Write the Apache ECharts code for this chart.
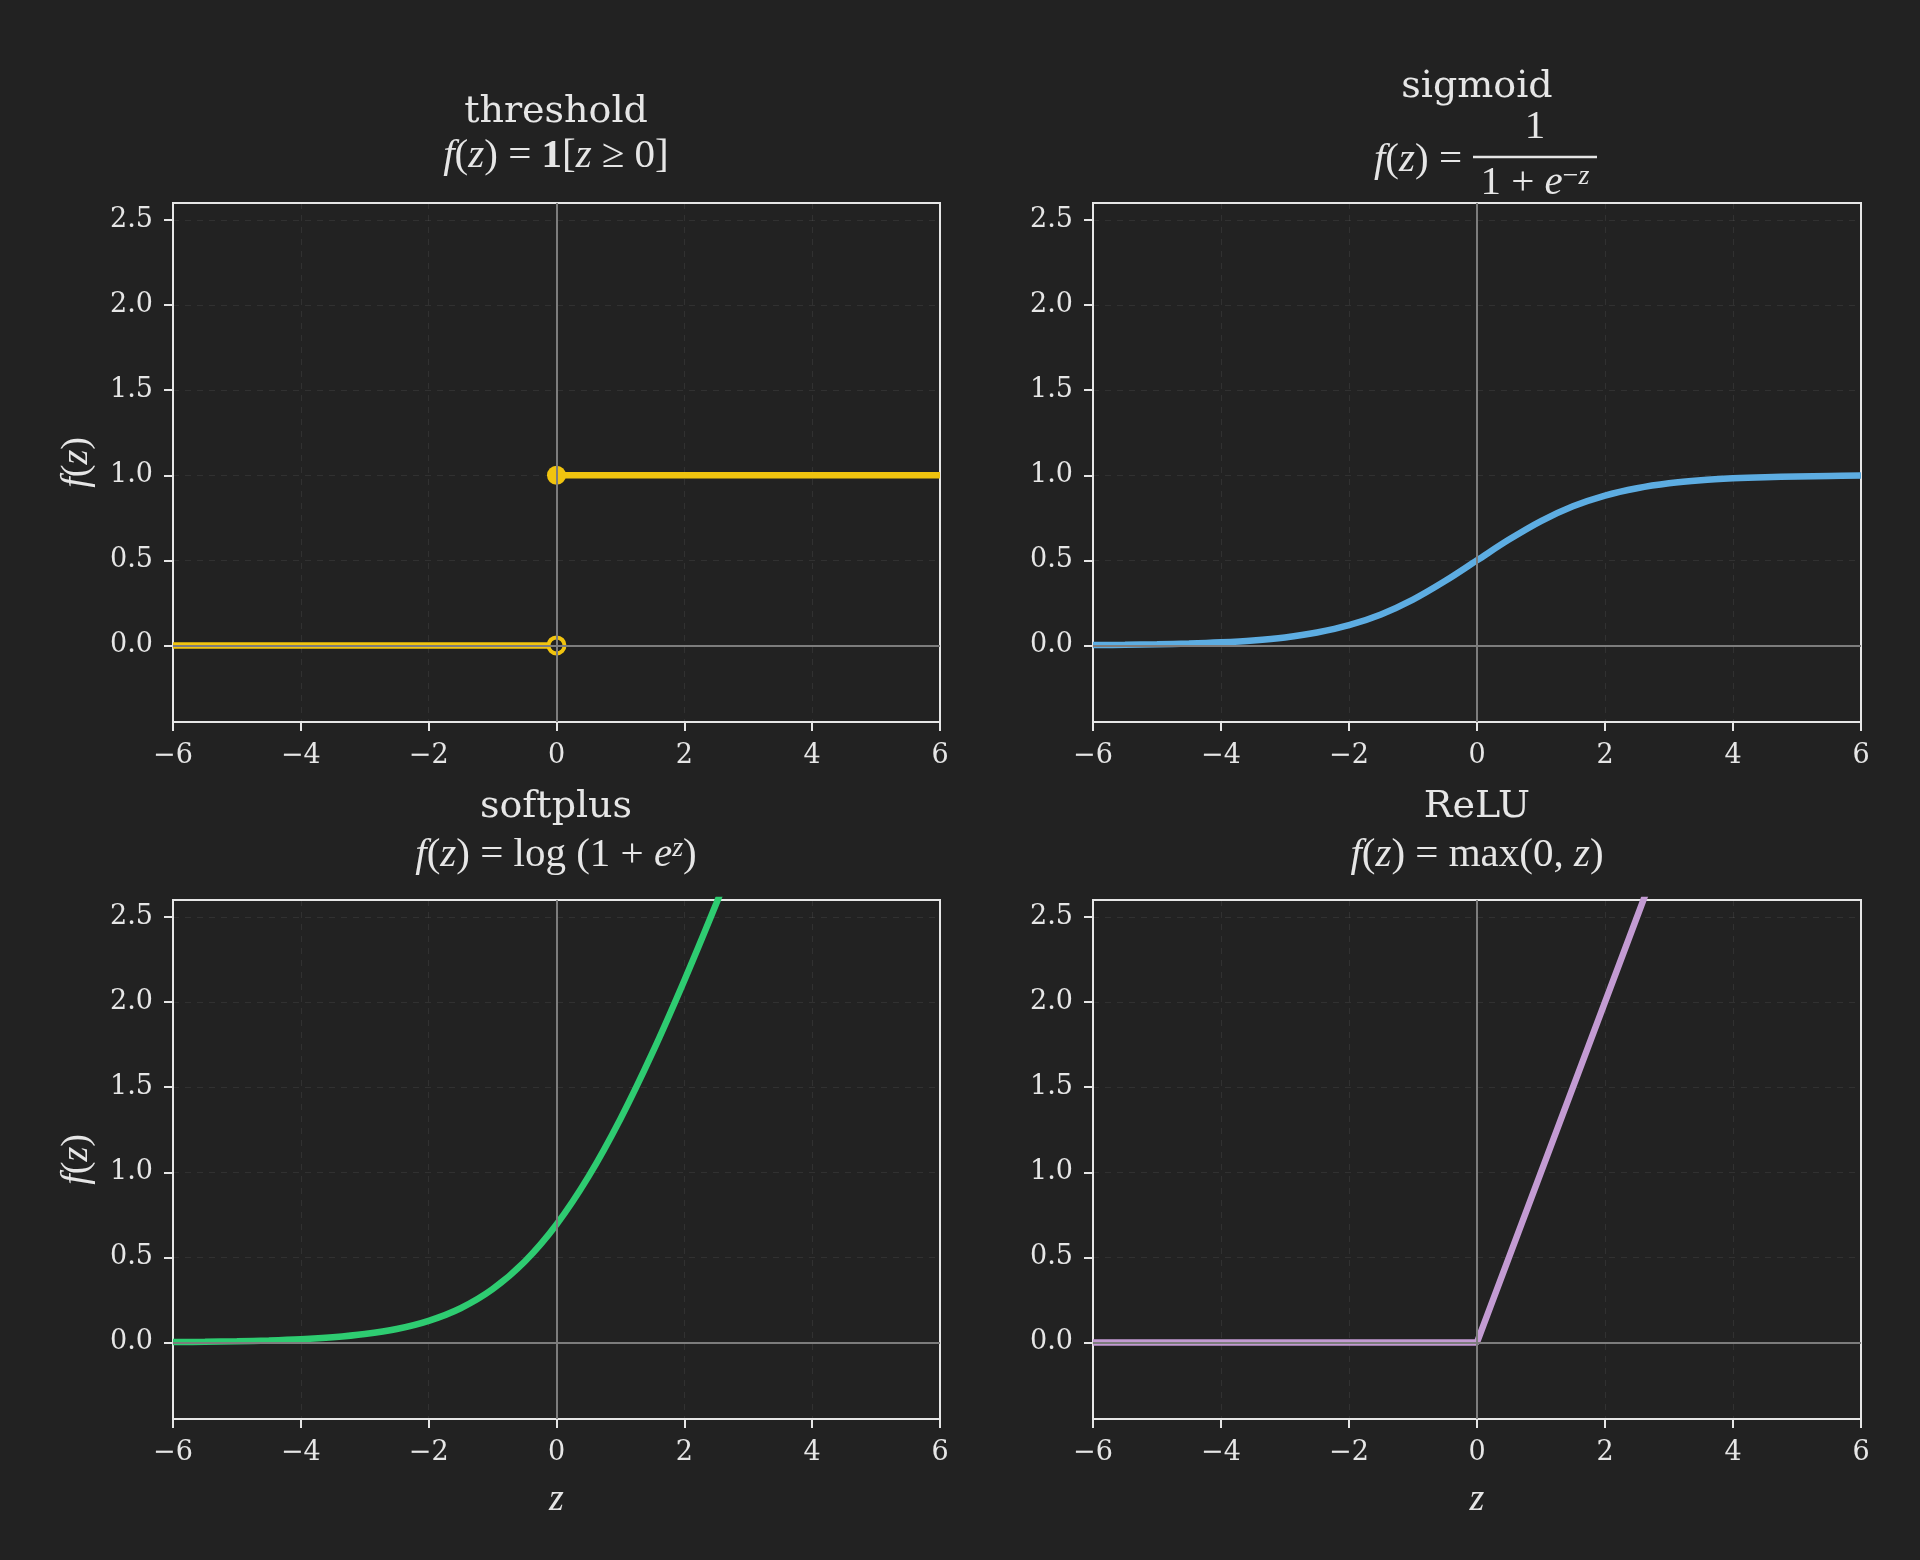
<!DOCTYPE html>
<html>
<head>
<meta charset="utf-8">
<script src="https://cdn.jsdelivr.net/npm/echarts@6/dist/echarts.min.js"></script>
<style>
  html, body { margin: 0; padding: 0; background: #222222; }
  #chart { width: 1920px; height: 1560px; }
</style>
</head>
<body>
<div id="chart"></div>
<script>
// tick labels
const zTicks = [-6, -4, -2, 0, 2, 4, 6];
const yTicks = [0, 0.5, 1, 1.5, 2, 2.5];

// sample points
const zSamples = [-6, -5.5, -5, -4.5, -4, -3.5, -3, -2.5, -2, -1.5, -1, -0.5, 0,
                  0.5, 1, 1.5, 2, 2.5, 3, 3.5, 4, 4.5, 5, 5.5, 6];
const sigmoidValues = [0.002, 0.004, 0.007, 0.011, 0.018, 0.029, 0.047, 0.076, 0.119, 0.182, 0.269, 0.378, 0.5,
                       0.622, 0.731, 0.818, 0.881, 0.924, 0.953, 0.971, 0.982, 0.989, 0.993, 0.996, 0.998];
const softplusValues = [0.002, 0.004, 0.007, 0.011, 0.018, 0.030, 0.049, 0.079, 0.127, 0.201, 0.313, 0.474, 0.693,
                        0.974, 1.313, 1.701, 2.127, 2.579, 3.049, 3.530, 4.018, 4.511, 5.007, 5.504, 6.002];

const reluZ = [-6, 0, 6];
const reluValues = [0, 0, 6];

const thresholdLowZ = [-6, 0];
const thresholdLowValues = [0, 0];
const thresholdHighZ = [0, 6];
const thresholdHighValues = [1, 1];

const titles = ['threshold', 'sigmoid', 'softplus', 'ReLU'];
const colors = ['#f1c40f', '#5dade2', '#2ecc71', '#c39bd3'];

const BG = '#222222';
const FG = '#e6e6e6';
const SERIF = 'DejaVu Serif';
const MATH = 'Liberation Serif';

function pairs(xs, ys) {
    return xs.map((x, i) => [x, ys[i]]);
}

const grids = [
    {left: 173, top: 203, width: 767, height: 519},
    {left: 1093, top: 203, width: 768, height: 519},
    {left: 173, top: 900, width: 767, height: 519},
    {left: 1093, top: 900, width: 768, height: 519}
].map(g => Object.assign(g, {show: true, borderColor: FG, borderWidth: 2, backgroundColor: 'transparent'}));

const tickFont = {color: FG, fontFamily: SERIF, fontSize: 27};
const gridLine = {show: true, lineStyle: {color: 'rgba(255,255,255,0.07)', type: [6, 6], width: 1}};

const xAxes = grids.map((g, i) => ({
    type: 'value', gridIndex: i, min: zTicks[0], max: zTicks[zTicks.length - 1], interval: 2,
    axisLine: {show: false, onZero: false},
    axisTick: {show: true, inside: false, length: 9, lineStyle: {color: FG, width: 2}},
    axisLabel: Object.assign({margin: 20, formatter: v => v < 0 ? '\u2212' + Math.abs(v) : String(v)}, tickFont),
    splitLine: gridLine,
    name: i >= 2 ? '{i|z}' : '',
    nameLocation: 'middle', nameGap: 62,
    nameTextStyle: {rich: {i: {fontFamily: MATH, fontStyle: 'italic', fontSize: 38, color: FG}}}
}));

const yAxes = grids.map((g, i) => ({
    type: 'value', gridIndex: i, min: -0.45, max: 2.6,
    axisLine: {show: false, onZero: false},
    axisTick: {show: true, inside: false, length: 9, lineStyle: {color: FG, width: 2}, customValues: yTicks},
    axisLabel: Object.assign({margin: 20, customValues: yTicks, formatter: v => v.toFixed(1)}, tickFont),
    splitLine: gridLine,
    name: i % 2 === 0 ? '{i|f}{r|(}{i|z}{r|)}' : '',
    nameLocation: 'middle', nameGap: 77, nameRotate: 90,
    nameTextStyle: {rich: {
        i: {fontFamily: MATH, fontStyle: 'italic', fontSize: 38, color: FG},
        r: {fontFamily: MATH, fontSize: 38, color: FG}
    }}
}));

const series = [];

// gray zero lines under the curves
grids.forEach((g, i) => {
    series.push({
        type: 'line', xAxisIndex: i, yAxisIndex: i, data: [], z: 1, silent: true,
        markLine: {
            silent: true, symbol: 'none', label: {show: false},
            lineStyle: {color: '#7d7d7d', width: 2, type: 'solid'},
            data: [{xAxis: 0}, {yAxis: 0}]
        }
    });
});

const curve = (i, data, color, extra) => Object.assign({
    type: 'line', xAxisIndex: i, yAxisIndex: i, data: data, z: 3,
    showSymbol: false, symbol: 'none', clip: true,
    lineStyle: {color: color, width: 6.5}
}, extra || {});

series.push(curve(0, pairs(thresholdLowZ, thresholdLowValues), colors[0]));
series.push(curve(0, pairs(thresholdHighZ, thresholdHighValues), colors[0]));
series.push({
    type: 'scatter', xAxisIndex: 0, yAxisIndex: 0, z: 4, symbolSize: 19,
    data: [[thresholdHighZ[0], thresholdHighValues[0]]],
    itemStyle: {color: colors[0], opacity: 1}
});
series.push({
    type: 'scatter', xAxisIndex: 0, yAxisIndex: 0, z: 4, symbolSize: 16,
    data: [[thresholdLowZ[1], thresholdLowValues[1]]],
    itemStyle: {color: BG, borderColor: colors[0], borderWidth: 4, opacity: 1}
});
series.push(curve(1, pairs(zSamples, sigmoidValues), colors[1], {smooth: 0.35}));
series.push(curve(2, pairs(zSamples, softplusValues), colors[2], {smooth: 0.35}));
series.push(curve(3, pairs(reluZ, reluValues), colors[3]));

// titles and formulas
const mathRich = {
    i: {fontFamily: MATH, fontStyle: 'italic', fontSize: 41, color: FG},
    r: {fontFamily: MATH, fontSize: 41, color: FG},
    b: {fontFamily: MATH, fontWeight: 'bold', fontSize: 41, color: FG},
    s: {fontFamily: MATH, fontSize: 28, color: FG, verticalAlign: 'top', lineHeight: 41},
    si: {fontFamily: MATH, fontStyle: 'italic', fontSize: 28, color: FG, verticalAlign: 'top', lineHeight: 41}
};
const centers = [556, 1477, 556, 1477];

function label(x, y, text, rich, align) {
    return {
        type: 'text', x: x, y: y, z: 10,
        style: {
            text: text, rich: rich, align: align || 'center', verticalAlign: 'middle',
            fill: FG, fontFamily: SERIF, fontSize: 38
        }
    };
}

const graphic = [
    label(centers[0], 112, titles[0]),
    label(centers[0], 156, '{i|f}{r|(}{i|z}{r|) = }{b|1}{r|[}{i|z}{r| \u2265 0]}', mathRich),
    label(centers[1], 87, titles[1]),
    label(1462, 160, '{i|f}{r|(}{i|z}{r|) =}', mathRich, 'right'),
    label(1535, 127, '{r|1}', mathRich),
    {type: 'line', z: 10, shape: {x1: 1473, y1: 157, x2: 1597, y2: 157}, style: {stroke: FG, lineWidth: 2.5}},
    label(1535, 183, '{r|1 + }{i|e}{s|\u2212}{si|z}', mathRich),
    label(centers[2], 807, titles[2]),
    label(centers[2], 855, '{i|f}{r|(}{i|z}{r|) = log (1 + }{i|e}{si|z}{r|)}', mathRich),
    label(centers[3], 807, titles[3]),
    label(centers[3], 855, '{i|f}{r|(}{i|z}{r|) = max(0, }{i|z}{r|)}', mathRich)
];

const chart = echarts.init(document.getElementById('chart'), null, {renderer: 'canvas'});
chart.setOption({
    backgroundColor: BG,
    animation: false,
    grid: grids,
    xAxis: xAxes,
    yAxis: yAxes,
    series: series,
    graphic: graphic
});
</script>
</body>
</html>
